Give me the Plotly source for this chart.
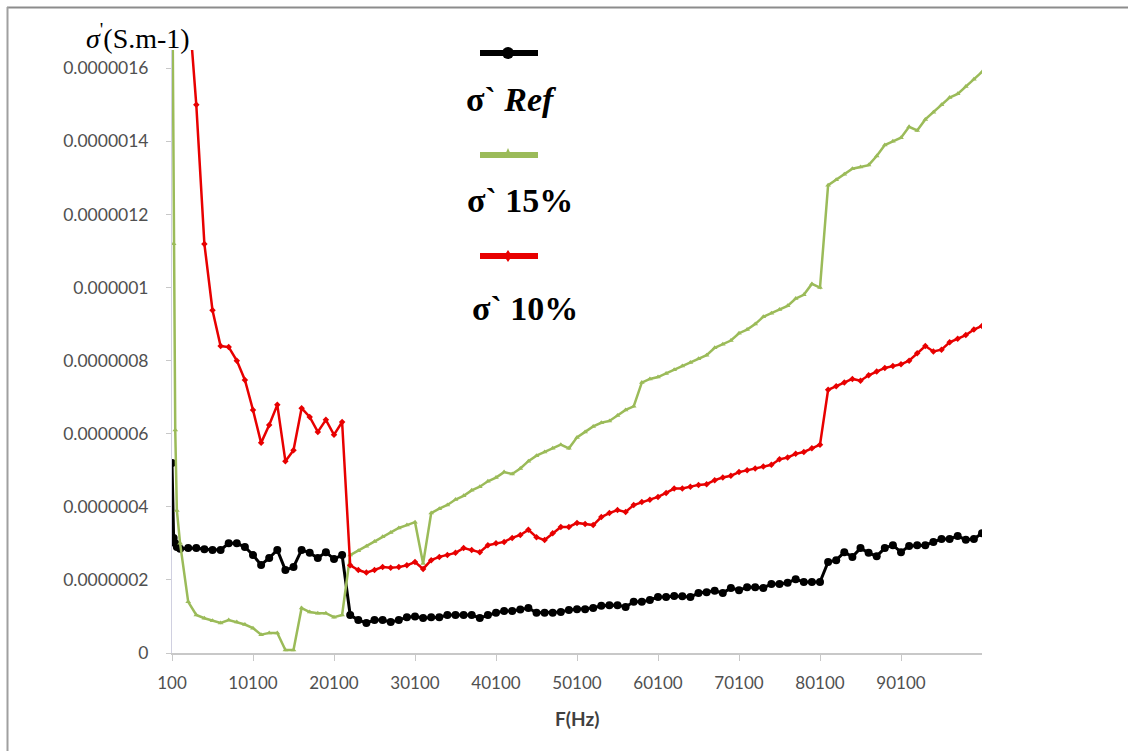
import plotly.graph_objects as go
import numpy as np

# Frequencies (Hz)
freq = [100, 300, 500, 700] + list(range(1100, 100101, 1000))

# Conductivity values in units of 1e-7 S/m
sigma_ref = [5.2, 3.15, 3.0, 2.9,
    2.85, 2.87, 2.87, 2.84, 2.82, 2.82, 3.0, 3.0, 2.9, 2.68,
    2.41, 2.6, 2.82, 2.27, 2.35, 2.82, 2.74, 2.6, 2.76, 2.57,
    2.68, 1.04, 0.9, 0.82, 0.9, 0.9, 0.85, 0.9, 0.98, 1.0,
    0.96, 0.98, 0.98, 1.04, 1.04, 1.04, 1.04, 0.96, 1.04, 1.1,
    1.15, 1.15, 1.19, 1.23, 1.1, 1.1, 1.1, 1.12, 1.18, 1.2,
    1.2, 1.23, 1.29, 1.31, 1.31, 1.26, 1.4, 1.4, 1.45, 1.53,
    1.53, 1.56, 1.55, 1.53, 1.64, 1.66, 1.7, 1.64, 1.78, 1.72,
    1.8, 1.8, 1.78, 1.89, 1.89, 1.92, 2.02, 1.94, 1.94, 1.94,
    2.49, 2.54, 2.76, 2.63, 2.87, 2.74, 2.65, 2.87, 2.95, 2.76,
    2.93, 2.95, 2.95, 3.04, 3.12, 3.12, 3.2, 3.1, 3.12, 3.28]

sigma_15 = [20.0, 11.2, 6.1, 3.9,
    3.0, 1.4, 1.04, 0.95, 0.88, 0.82, 0.9, 0.85, 0.78, 0.68,
    0.5, 0.55, 0.55, 0.08, 0.08, 1.23, 1.12, 1.09, 1.09, 0.98,
    1.04, 2.68, 2.8, 2.92, 3.05, 3.18, 3.3, 3.42, 3.5, 3.58,
    2.45, 3.83, 3.95, 4.05, 4.2, 4.3, 4.45, 4.55, 4.7, 4.8,
    4.95, 4.9, 5.05, 5.25, 5.4, 5.5, 5.6, 5.7, 5.6, 5.9,
    6.05, 6.2, 6.3, 6.35, 6.5, 6.65, 6.75, 7.4, 7.5, 7.55,
    7.65, 7.75, 7.85, 7.95, 8.05, 8.15, 8.35, 8.45, 8.55, 8.75,
    8.85, 9.0, 9.2, 9.3, 9.4, 9.5, 9.7, 9.8, 10.1, 10.0,
    12.8, 12.95, 13.1, 13.25, 13.3, 13.35, 13.6, 13.9, 14.0, 14.1,
    14.4, 14.3, 14.6, 14.8, 15.0, 15.2, 15.3, 15.5, 15.7, 15.9]

sigma_10 = [35.0, 33.0, 31.0, 29.0,
    25.0, 17.9, 15.0, 11.19, 9.38, 8.4, 8.37, 8.0, 7.47, 6.65,
    5.75, 6.24, 6.79, 5.25, 5.55, 6.7, 6.46, 6.05, 6.38, 5.97,
    6.32, 2.4, 2.27, 2.2, 2.27, 2.35, 2.33, 2.35, 2.4, 2.49,
    2.3, 2.54, 2.63, 2.68, 2.74, 2.87, 2.82, 2.76, 2.95, 3.0,
    3.04, 3.15, 3.23, 3.37, 3.17, 3.09, 3.28, 3.45, 3.45, 3.56,
    3.53, 3.5, 3.72, 3.83, 3.91, 3.86, 4.05, 4.13, 4.19, 4.27,
    4.38, 4.5, 4.5, 4.55, 4.6, 4.62, 4.73, 4.8, 4.85, 4.95,
    5.0, 5.05, 5.1, 5.15, 5.3, 5.35, 5.45, 5.5, 5.6, 5.7,
    7.2, 7.3, 7.4, 7.5, 7.45, 7.6, 7.7, 7.8, 7.85, 7.9,
    8.0, 8.2, 8.4, 8.25, 8.3, 8.5, 8.6, 8.7, 8.85, 8.95]

x_tickvals = [100, 10100, 20100, 30100, 40100, 50100, 60100, 70100, 80100, 90100]
x_ticktext = ["100", "10100", "20100", "30100", "40100", "50100", "60100", "70100", "80100", "90100"]
y_tickvals = [0, 2e-7, 4e-7, 6e-7, 8e-7, 1e-6, 1.2e-6, 1.4e-6, 1.6e-6]
y_ticktext = ["0", "0.0000002", "0.0000004", "0.0000006", "0.0000008",
              "0.000001", "0.0000012", "0.0000014", "0.0000016"]

SCALE = 1e-7
BLACK = "#000000"
GREEN = "#9BBB59"
RED = "#E80000"

fig = go.Figure()
fig.add_trace(go.Scatter(x=freq, y=np.array(sigma_ref) * SCALE, mode="lines+markers",
                         line=dict(color=BLACK, width=3),
                         marker=dict(symbol="circle", size=8, color=BLACK),
                         name="σ` Ref"))
fig.add_trace(go.Scatter(x=freq, y=np.array(sigma_15) * SCALE, mode="lines+markers",
                         line=dict(color=GREEN, width=2.5),
                         marker=dict(symbol="triangle-up", size=5, color=GREEN),
                         name="σ` 15%"))
fig.add_trace(go.Scatter(x=freq, y=np.array(sigma_10) * SCALE, mode="lines+markers",
                         line=dict(color=RED, width=2.5),
                         marker=dict(symbol="diamond", size=5, color=RED),
                         name="σ` 10%"))

L, R, T, B = 172, 146, 50, 98
W, H = 1128, 751
pw, ph = W - L - R, H - T - B

def px(xp):
    return (xp - L) / pw

def py(yp):
    return (H - B - yp) / ph

ytickfont = dict(family="Lato, Carlito, sans-serif", size=17.5, color="#505050")
xtickfont = dict(family="Lato, Carlito, sans-serif", size=17, color="#505050")

fig.update_layout(
    width=W, height=H,
    margin=dict(l=L, r=R, t=T, b=B),
    paper_bgcolor="white", plot_bgcolor="white",
    showlegend=False,
    xaxis=dict(range=[100, 100100], tickvals=x_tickvals, ticktext=x_ticktext,
               showgrid=False, zeroline=False, showline=True, linecolor="#C8C8C8", linewidth=1.5,
               ticks="outside", ticklen=6, tickcolor="#C8C8C8", tickfont=xtickfont,
               ticklabelstandoff=8),
    yaxis=dict(range=[0, 1.65e-6], tickvals=y_tickvals, ticktext=y_ticktext,
               showgrid=False, zeroline=False, showline=True, linecolor="#D0D0E0", linewidth=1,
               ticks="outside", ticklen=5, tickcolor="#C8C8C8", tickfont=ytickfont,
               ticklabelstandoff=14),
)

def ann(xp, yp, text, font):
    return dict(x=px(xp), y=py(yp), xref="paper", yref="paper", showarrow=False,
                xanchor="center", yanchor="middle", text=text, font=font)

annotations = [
    ann(138, 36, "<i>σ</i><sup>'</sup>(S.m-1)",
        dict(family="Liberation Serif", size=28, color="black")),
    ann(577, 718, "<b>F(Hz)</b>", dict(family="Lato, sans-serif", size=19, color="#404040")),
    ann(511, 100, "<b>σ` <i>Ref</i></b>", dict(family="Liberation Serif", size=34, color="black")),
    ann(520, 200, "<b>σ` 15%</b>", dict(family="Liberation Serif", size=34, color="black")),
    ann(525, 308, "<b>σ` 10%</b>", dict(family="Liberation Serif", size=34, color="black")),
]
fig.update_layout(annotations=annotations)

shapes = []
for yp, col in [(53, BLACK), (155, GREEN), (256, RED)]:
    shapes.append(dict(type="line", xref="paper", yref="paper", x0=px(480), x1=px(538),
                       y0=py(yp), y1=py(yp), line=dict(color=col, width=6)))
# legend markers
shapes.append(dict(type="circle", xref="paper", yref="paper", xsizemode="pixel", ysizemode="pixel",
                   xanchor=px(508), yanchor=py(53), x0=-6, x1=6, y0=-6, y1=6,
                   fillcolor=BLACK, line=dict(color=BLACK, width=0)))
shapes.append(dict(type="path", xref="paper", yref="paper", xsizemode="pixel", ysizemode="pixel",
                   xanchor=px(508), yanchor=py(155), path="M -4 -2 L 4 -2 L 0 7 Z",
                   fillcolor=GREEN, line=dict(color=GREEN, width=0)))
shapes.append(dict(type="path", xref="paper", yref="paper", xsizemode="pixel", ysizemode="pixel",
                   xanchor=px(508), yanchor=py(256), path="M -4 0 L 0 6 L 4 0 L 0 -6 Z",
                   fillcolor=RED, line=dict(color=RED, width=0)))
# outer frame (top and left edges)
shapes.append(dict(type="line", xref="paper", yref="paper", x0=px(7), x1=px(1128),
                   y0=py(7.5), y1=py(7.5), line=dict(color="#8C8C8C", width=2)))
shapes.append(dict(type="line", xref="paper", yref="paper", x0=px(7.5), x1=px(7.5),
                   y0=py(7), y1=py(751), line=dict(color="#A0A0A0", width=2)))
fig.update_layout(shapes=shapes)

fig.write_html("out.html", config={"displayModeBar": False},
               post_script="document.body.style.margin='0px';")
